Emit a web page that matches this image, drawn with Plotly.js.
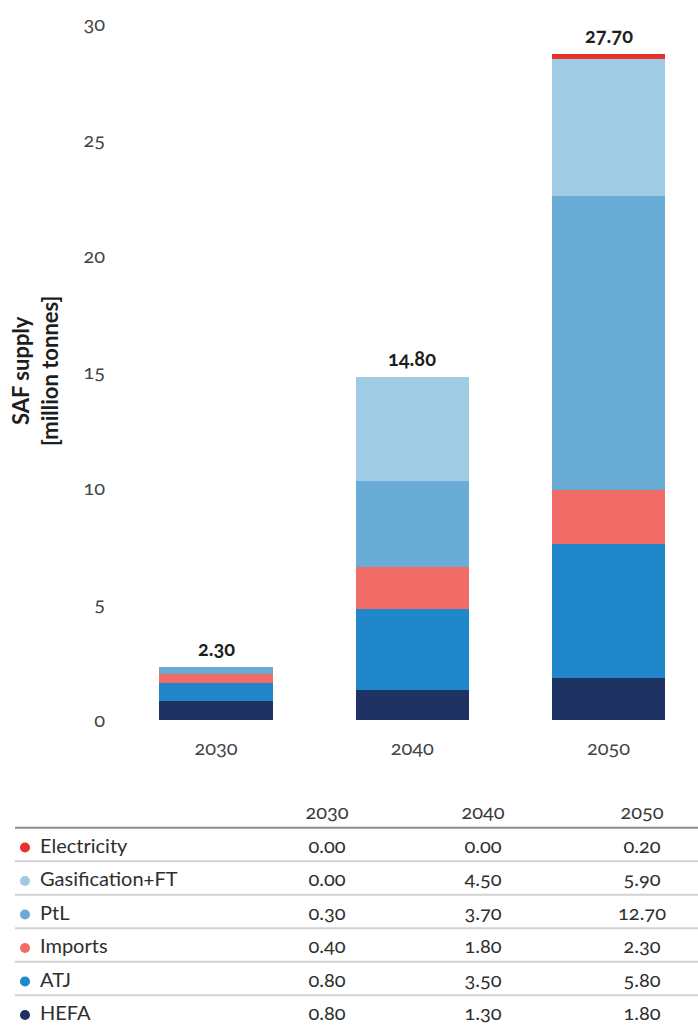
<!DOCTYPE html>
<html>
<head>
<meta charset="utf-8">
<script src="https://cdn.plot.ly/plotly-3.0.1.min.js"></script>
<style>
  html, body { margin: 0; padding: 0; background: #fff; }
  #chart { width: 698px; height: 1026px; }
  svg text { font-feature-settings: "onum" 1; }
</style>
</head>
<body>
<div id="chart"></div>
<script>
// SAF supply by pathway, million tonnes
const years = ['2030', '2040', '2050'];
const electricity    = [0.00, 0.00, 0.20];
const gasificationFT = [0.00, 4.50, 5.90];
const ptl            = [0.30, 3.70, 12.70];
const imports        = [0.40, 1.80, 2.30];
const atj            = [0.80, 3.50, 5.80];
const hefa           = [0.80, 1.30, 1.80];
const totalLabels    = ['2.30', '14.80', '27.70'];
const yTicks = [0, 5, 10, 15, 20, 25, 30];

// stacking order, bottom to top
const series = [
  { name: 'HEFA',            values: hefa,           color: '#1f3264' },
  { name: 'ATJ',             values: atj,            color: '#1f87ca' },
  { name: 'Imports',         values: imports,        color: '#f16b67' },
  { name: 'PtL',             values: ptl,            color: '#69acd6' },
  { name: 'Gasification+FT', values: gasificationFT, color: '#a0cbe5' },
  { name: 'Electricity',     values: electricity,    color: '#e63228' }
];
// table rows, top to bottom
const tableOrder = ['Electricity', 'Gasification+FT', 'PtL', 'Imports', 'ATJ', 'HEFA'];

const W = 698, H = 1026;
const FONT = 'Lato, "Open Sans", sans-serif';

const traces = series.map(s => ({
  type: 'bar',
  name: s.name,
  x: years,
  y: s.values,
  marker: { color: s.color, line: { width: 0 } },
  hoverinfo: 'x+y+name',
  showlegend: false
}));

const stackTops = years.map((_, i) => series.reduce((acc, s) => acc + s.values[i], 0));

// table: column centres in pixels, rows by index (0 = header)
const colX = [327, 483, 642];
const dotX = 25, labelX = 40;
const rowIdx = tableOrder.map((_, i) => i + 1);

// header
traces.push({
  type: 'scatter', mode: 'text', xaxis: 'x2', yaxis: 'y2',
  x: colX, y: colX.map(() => 0), text: years,
  textposition: 'middle center',
  textfont: { family: FONT, size: 20, color: '#3a3a3a' },
  hoverinfo: 'skip', showlegend: false, cliponaxis: false
});
// row labels
traces.push({
  type: 'scatter', mode: 'text', xaxis: 'x2', yaxis: 'y2',
  x: tableOrder.map(() => labelX), y: rowIdx, text: tableOrder,
  textposition: 'middle right',
  textfont: { family: FONT, size: 20, color: '#2e2e2e' },
  hoverinfo: 'skip', showlegend: false, cliponaxis: false
});
// coloured dots
traces.push({
  type: 'scatter', mode: 'markers', xaxis: 'x2', yaxis: 'y2',
  x: tableOrder.map(() => dotX), y: rowIdx,
  marker: { size: 10, color: tableOrder.map(n => series.find(s => s.name === n).color) },
  hoverinfo: 'skip', showlegend: false, cliponaxis: false
});
// values
years.forEach((yr, c) => {
  traces.push({
    type: 'scatter', mode: 'text', xaxis: 'x2', yaxis: 'y2',
    x: tableOrder.map(() => colX[c]), y: rowIdx,
    text: tableOrder.map(n => series.find(s => s.name === n).values[c].toFixed(2)),
    textposition: 'middle center',
    textfont: { family: FONT, size: 20, color: '#2e2e2e' },
    hoverinfo: 'skip', showlegend: false, cliponaxis: false
  });
});

// row rules
const shapes = [];
for (let i = 0; i < tableOrder.length; i++) {
  shapes.push({
    type: 'line', xref: 'paper', yref: 'y2',
    x0: 15 / W, x1: 1, y0: i + 0.41, y1: i + 0.41,
    line: { color: i === 0 ? '#8c8c8c' : '#d2d2d2', width: 2 }
  });
}

// stack totals above each bar (category index on x)
const annotations = years.map((yr, i) => ({
  x: i, y: stackTops[i], xref: 'x', yref: 'y',
  text: '<b>' + totalLabels[i] + '</b>',
  showarrow: false, yanchor: 'bottom', yshift: 5,
  font: { family: FONT, size: 20, color: '#1e1e1e' }
}));
annotations.push({
  xref: 'paper', yref: 'paper', x: 35 / W, y: 1 - 371 / H,
  xanchor: 'center', yanchor: 'middle', textangle: -90,
  text: '<b>SAF supply<br>[million tonnes]</b>',
  showarrow: false,
  font: { family: FONT, size: 22, color: '#1e1e1e' }
});

const layout = {
  width: W, height: H,
  margin: { l: 0, r: 0, t: 0, b: 0 },
  paper_bgcolor: '#ffffff', plot_bgcolor: '#ffffff',
  barmode: 'stack', bargap: 0.424,
  font: { family: FONT, size: 20, color: '#444444' },
  xaxis: {
    type: 'category',
    domain: [106 / W, 1], range: [-0.5605, 2.456],
    showgrid: false, zeroline: false, showline: false, ticks: '',
    ticklabelstandoff: 14,
    tickfont: { family: FONT, size: 20, color: '#444444' },
    fixedrange: true
  },
  yaxis: {
    domain: [1 - 720 / H, 1 - 24 / H], range: [0, 30],
    tickvals: yTicks, ticktext: yTicks.map(String),
    showgrid: false, zeroline: false, showline: false, ticks: '',
    tickfont: { family: FONT, size: 20, color: '#444444' },
    fixedrange: true
  },
  xaxis2: {
    domain: [0, 1], range: [0, W], anchor: 'y2', visible: false, fixedrange: true
  },
  yaxis2: {
    domain: [0, 0.25], range: [6.328, -1.329], anchor: 'x2', visible: false, fixedrange: true
  },
  shapes: shapes,
  annotations: annotations
};

Plotly.newPlot('chart', traces, layout, { displayModeBar: false, staticPlot: true });
</script>
</body>
</html>
